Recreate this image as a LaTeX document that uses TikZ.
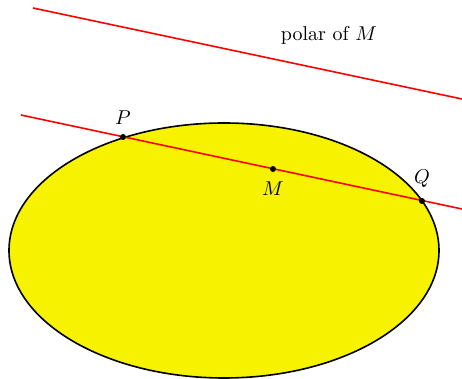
\documentclass[tikz,border=0pt]{standalone}
\begin{document}
\begin{tikzpicture}[x=0.5pt,y=-0.5pt,
  polarline/.style={red,thick},
  dot/.style={circle,fill=black,inner sep=0pt,minimum size=3pt}]
\definecolor{ellyellow}{RGB}{247,243,0}
\useasboundingbox (0,0) rectangle (462,379);
\draw[thick,fill=ellyellow] (224,250.5) ellipse [x radius=215pt/2, y radius=127.5pt/2];
\coordinate (a1) at (33,8);
\coordinate (a2) at (462,99);
\coordinate (b1) at (21,115);
\coordinate (b2) at (462,209);
\draw[polarline] (a1) -- (a2);
\draw[polarline] (b1) -- (b2);
\node[dot] (P) at (123,137) {};
\node[dot] (M) at (273,169) {};
\node[dot] (Q) at (422,201) {};
\node (Pl) at (123,118) {$P$};
\node (Ml) at (273,189) {$M$};
\node (Ql) at (422,179) {$Q$};
\node (pol) at (329,35) {polar of $M$};
\end{tikzpicture}
\end{document}
